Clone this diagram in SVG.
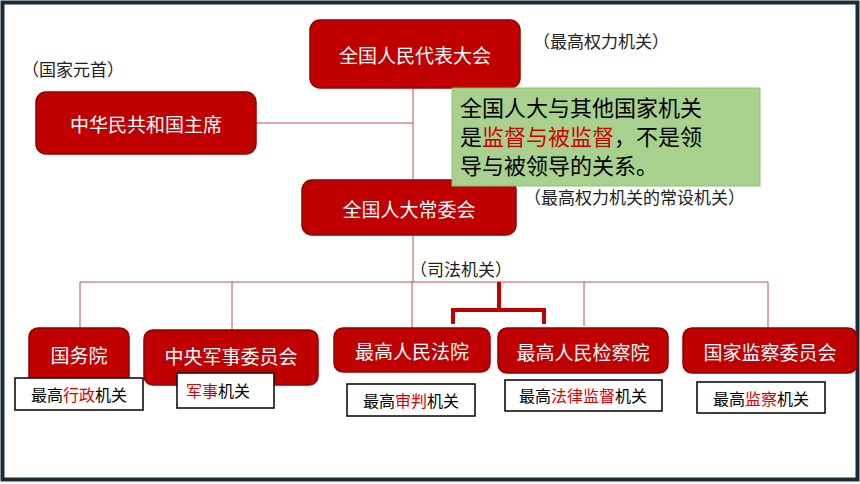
<svg xmlns="http://www.w3.org/2000/svg" width="860" height="484" viewBox="0 0 860 484">
<style>
.n{fill:#c00000;stroke:#8e0000;stroke-width:1.5}
.nt{fill:#fff;font-family:"Noto Sans CJK SC",sans-serif;font-size:19px;text-anchor:middle;dominant-baseline:central}
.a{fill:#222;font-family:"Noto Sans CJK SC",sans-serif;font-size:17px}
.lb{fill:#fff;stroke:#000;stroke-width:1.5}
.lt{fill:#000;font-family:"Noto Sans CJK SC",sans-serif;font-size:16px;text-anchor:middle;dominant-baseline:central}
.r{fill:#e00000}
.c{stroke:#c05050;stroke-width:1;fill:none}
</style>
<rect x="0" y="0" width="860" height="484" fill="#fff"/>
<rect x="2.5" y="2.5" width="855" height="477" fill="none" stroke="#1c2a3a" stroke-width="4"/>
<g id="connectors">
<path class="c" d="M413 88V282M256 123H413M80 282H768M80 282V328M232 282V330M412 282V328M584 282V326M768 282V328"/>
<path d="M499 282V310M453 324V310H544V324" stroke="#c00000" stroke-width="4" fill="none"/>
</g>
<g id="npc"><rect class="n" x="310" y="20" width="210" height="68" rx="10"/><text class="nt" x="415" y="54">全国人民代表大会</text></g>
<g id="chair"><rect class="n" x="36" y="92" width="220" height="62" rx="10"/><text class="nt" x="146" y="123">中华民共和国主席</text></g>
<g id="npcsc"><rect class="n" x="302" y="180" width="214" height="55" rx="10"/><text class="nt" x="409" y="208">全国人大常委会</text></g>
<g id="note"><rect x="452" y="88" width="308" height="98" fill="#a9d18e" stroke="#8fbf70"/>
<text font-family="'Noto Sans CJK SC',sans-serif" font-size="22" fill="#000"><tspan x="460" y="116">全国人大与其他国家机关</tspan><tspan x="460" y="145">是<tspan fill="#d00000">监督与被监督</tspan>，不是领</tspan><tspan x="460" y="174">导与被领导的关系。</tspan></text></g>
<text class="a" x="533" y="48">（最高权力机关）</text>
<text class="a" x="22" y="76">（国家元首）</text>
<text class="a" x="524" y="204">（最高权力机关的常设机关）</text>
<text class="a" x="410" y="276">（司法机关）</text>
<g id="gwy"><rect class="n" x="29" y="328" width="100" height="60" rx="9"/><text class="nt" x="79" y="354">国务院</text></g>
<g id="zyjw"><rect class="n" x="144" y="330" width="174" height="55" rx="9"/><text class="nt" x="231" y="355">中央军事委员会</text></g>
<g id="fy"><rect class="n" x="334" y="328" width="156" height="44" rx="9"/><text class="nt" x="412" y="350">最高人民法院</text></g>
<g id="jcy"><rect class="n" x="498" y="328" width="170" height="45" rx="9"/><text class="nt" x="583" y="351">最高人民检察院</text></g>
<g id="jw"><rect class="n" x="683" y="328" width="174" height="45" rx="9"/><text class="nt" x="770" y="351">国家监察委员会</text></g>
<g id="l1"><rect class="lb" x="15" y="378" width="128" height="32"/><text class="lt" x="79" y="394">最高<tspan class="r">行政</tspan>机关</text></g>
<g id="l2"><rect class="lb" x="177" y="373" width="97" height="35"/><text class="lt" x="218" y="390"><tspan class="r">军事</tspan>机关</text></g>
<g id="l3"><rect class="lb" x="347" y="384" width="128" height="32"/><text class="lt" x="411" y="400">最高<tspan class="r">审判</tspan>机关</text></g>
<g id="l4"><rect class="lb" x="505" y="380" width="157" height="31"/><text class="lt" x="583" y="395">最高<tspan class="r">法律监督</tspan>机关</text></g>
<g id="l5"><rect class="lb" x="697" y="382" width="128" height="31"/><text class="lt" x="761" y="398">最高<tspan class="r">监察</tspan>机关</text></g>
</svg>
